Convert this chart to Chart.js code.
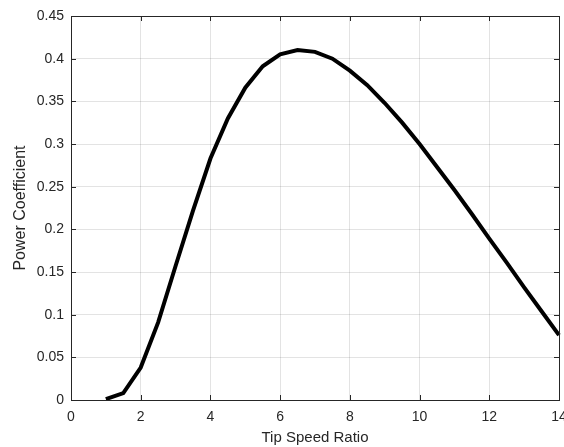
<!DOCTYPE html>
<html>
<head>
<meta charset="utf-8">
<script src="https://cdn.jsdelivr.net/npm/chart.js@4/dist/chart.umd.min.js"></script>
<style>
  body { margin: 0; background: #fff; }
</style>
</head>
<body>
<canvas id="cpchart" width="564" height="447"></canvas>
<script>
// tip speed ratio (lambda) and power coefficient
const tsr = [1, 1.5, 2, 2.5, 3, 3.5, 4, 4.5, 5, 5.5, 6, 6.5, 7, 7.5, 8, 8.5, 9, 9.5, 10, 10.5, 11, 11.5, 12, 12.5, 13, 13.5, 14];
const cp = [0.001, 0.008, 0.038, 0.091, 0.157, 0.222, 0.283, 0.330, 0.366, 0.391, 0.405, 0.410, 0.408, 0.400, 0.386, 0.369, 0.348, 0.325, 0.300, 0.273, 0.246, 0.218, 0.189, 0.161, 0.132, 0.104, 0.076];

const xTicks = [0, 2, 4, 6, 8, 10, 12, 14];
const yTicks = [0, 0.05, 0.1, 0.15, 0.2, 0.25, 0.3, 0.35, 0.4, 0.45];

const axisColor = "#262626";
const fontFamily = "'Liberation Sans', Arial, sans-serif";

// matlab style box with ticks pointing inward
const boxTicks = {
  id: "boxTicks",
  afterDraw(chart) {
    const { ctx, chartArea: a, scales } = chart;
    ctx.save();
    ctx.strokeStyle = axisColor;
    ctx.lineWidth = 1;
    ctx.beginPath();
    xTicks.forEach(v => {
      const px = Math.round(scales.x.getPixelForValue(v)) + 0.5;
      ctx.moveTo(px, a.bottom); ctx.lineTo(px, a.bottom - 5);
      ctx.moveTo(px, a.top); ctx.lineTo(px, a.top + 5);
    });
    yTicks.forEach(v => {
      const py = Math.round(scales.y.getPixelForValue(v)) + 0.5;
      ctx.moveTo(a.left, py); ctx.lineTo(a.left + 5, py);
      ctx.moveTo(a.right, py); ctx.lineTo(a.right - 5, py);
    });
    ctx.stroke();
    ctx.strokeRect(Math.round(a.left) + 0.5, Math.round(a.top) + 0.5,
      Math.round(a.right - a.left), Math.round(a.bottom - a.top));
    ctx.restore();
  }
};

const ctx = document.getElementById("cpchart").getContext("2d");
const cpchart = new Chart(ctx, {
  type: "line",
  data: {
    datasets: [
      {
        data: tsr.map((x, i) => ({ x: x, y: cp[i] })),
        borderColor: "#000",
        borderWidth: 4,
        pointRadius: 0,
        tension: 0,
        fill: false,
        clip: 4,
      },
    ],
  },
  options: {
    responsive: false,
    animation: false,
    layout: { padding: { top: 16, right: 5, left: 0, bottom: 0 } },
    plugins: {
      legend: { display: false },
      tooltip: { enabled: false },
    },
    scales: {
      x: {
        type: "linear",
        min: 0,
        max: 14,
        afterFit: s => { s.height = 47; s.paddingLeft = 0; s.paddingRight = 0; },
        afterBuildTicks: s => { s.ticks = xTicks.map(v => ({ value: v })); },
        grid: { color: "rgba(38,38,38,0.13)", drawTicks: false },
        border: { display: false },
        ticks: {
          color: axisColor,
          padding: 9,
          maxRotation: 0,
          font: { family: fontFamily, size: 14 },
        },
        title: {
          display: true,
          text: "Tip Speed Ratio",
          color: axisColor,
          padding: { top: 0, bottom: 0 },
          font: { family: fontFamily, size: 15 },
        },
      },
      y: {
        min: 0,
        max: 0.45,
        afterFit: s => { s.width = 71; s.paddingTop = 0; s.paddingBottom = 0; },
        afterBuildTicks: s => { s.ticks = yTicks.map(v => ({ value: v })); },
        grid: { color: "rgba(38,38,38,0.13)", drawTicks: false },
        border: { display: false },
        ticks: {
          color: axisColor,
          padding: 7,
          callback: v => String(Number(v.toFixed(2))),
          font: { family: fontFamily, size: 14 },
        },
        title: {
          display: true,
          text: "Power Coefficient",
          color: axisColor,
          padding: { top: 11, bottom: 0 },
          font: { family: fontFamily, size: 16 },
        },
      },
    },
  },
  plugins: [boxTicks],
});
</script>
</body>
</html>
